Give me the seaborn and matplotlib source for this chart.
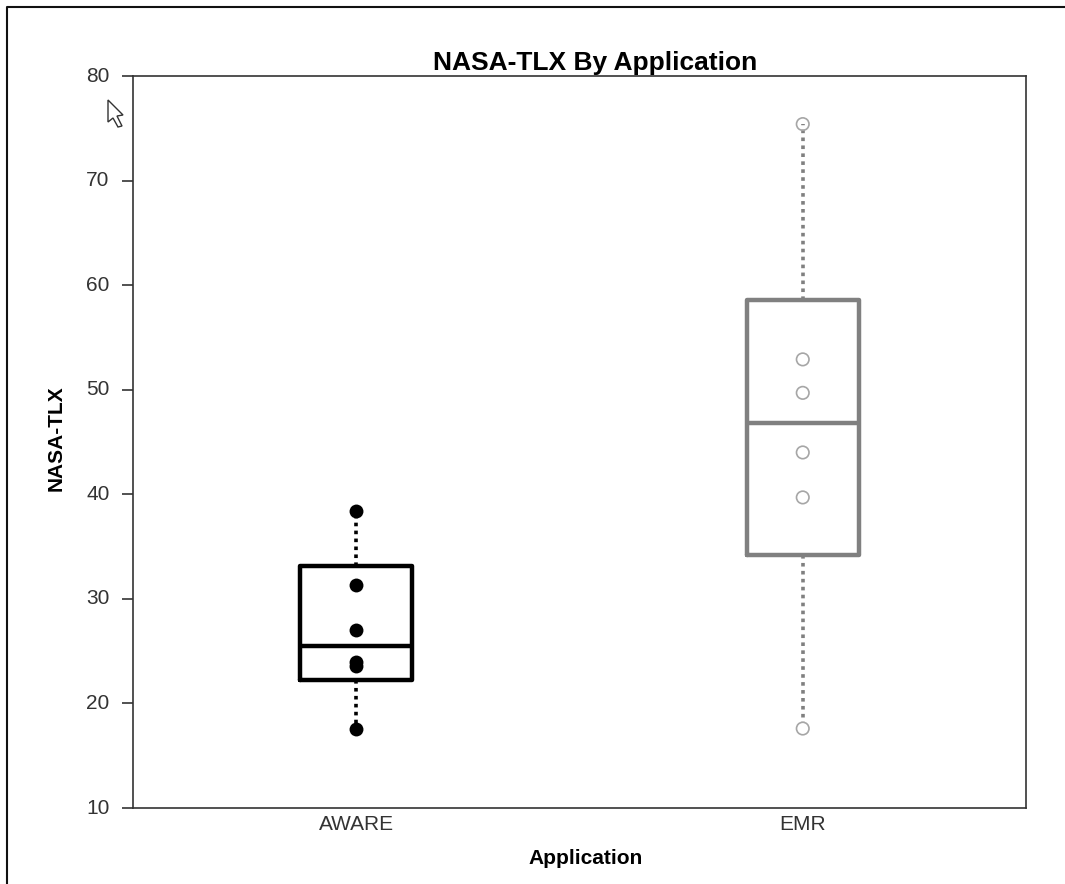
import matplotlib
matplotlib.use('Agg')
import matplotlib.pyplot as plt
from matplotlib.lines import Line2D
from matplotlib.patches import Polygon
import pandas as pd
import seaborn as sns

apps = ['AWARE', 'EMR']
yticks = [10, 20, 30, 40, 50, 60, 70, 80]

# individual scores
aware_points = [38.4, 31.3, 27.0, 24.0, 23.6, 17.6]
emr_points = [75.4, 52.9, 49.7, 44.0, 39.7, 17.6]

# low, q1, median, q3, high of each box as drawn in the picture
aware_box = [17.6, 22.2, 25.5, 33.1, 38.4]
emr_box = [18.2, 34.2, 46.8, 58.6, 75.4]

BLACK = '#000000'
GRAY = '#808080'

sns.set_style('white')
plt.rcParams['font.family'] = ['Liberation Sans', 'DejaVu Sans']
plt.rcParams['ytick.alignment'] = 'center'

W, H = 1065, 884
fig = plt.figure(figsize=(W / 100, H / 100), dpi=100)
ax = fig.add_axes([133 / W, (H - 808) / H, 893 / W, 732 / H])

df_box = pd.DataFrame({'app': ['AWARE'] * 5 + ['EMR'] * 5, 'value': aware_box + emr_box})
sns.boxplot(data=df_box, x='app', y='value', hue='app', order=apps, hue_order=apps,
            palette=[BLACK, GRAY], fill=False, width=0.25, gap=0, whis=(0, 100),
            showcaps=False, showfliers=False, legend=False, linewidth=3.2,
            boxprops={'solid_joinstyle': 'round'},
            whiskerprops={'linestyle': (0, (1, 1.2)), 'linewidth': 2.6},
            medianprops={'linewidth': 3.2}, ax=ax)

sns.stripplot(x=['AWARE'] * len(aware_points), y=aware_points, order=apps, jitter=False,
              color=BLACK, size=10, linewidth=0, ax=ax)
sns.stripplot(x=['EMR'] * len(emr_points), y=emr_points, order=apps, jitter=False,
              color='none', edgecolor='#a6a6a6', size=9, linewidth=1.2, ax=ax)

ax.set_xlim(-0.5, 1.5)
ax.set_ylim(10, 80)
ax.set_yticks(yticks)
ax.tick_params(axis='y', left=True, length=8, width=1.2, color='#333333', labelsize=15,
               labelcolor='#333333', pad=9)
ax.tick_params(axis='x', bottom=False, labelsize=15, labelcolor='#333333', pad=1.5)
for side in ax.spines:
    ax.spines[side].set_linewidth(1.2)
    ax.spines[side].set_color('#333333')
    ax.spines[side].set_visible(True)

ax.set_title('NASA-TLX By Application', fontsize=19, fontweight='bold', color='black',
             x=0.5175, pad=4)
ax.set_xlabel('Application', fontsize=15, fontweight='bold', color='black', x=0.507, labelpad=10.5)
ax.set_ylabel('NASA-TLX', fontsize=15, fontweight='bold', color='black', y=0.505, labelpad=15)

# screenshot border and mouse pointer
fig.add_artist(Line2D([7 / W, 7 / W, 1], [0, 1 - 7 / H, 1 - 7 / H], color='#111111', lw=1.5))
cursor = [(108, 100), (123, 115), (117, 116), (122, 126), (118, 127), (113, 118), (108, 122)]
fig.add_artist(Polygon([(x / W, 1 - y / H) for x, y in cursor], closed=True, fc='white',
                       ec='#333333', lw=1, transform=fig.transFigure))

fig.savefig('out.png', dpi=100)
